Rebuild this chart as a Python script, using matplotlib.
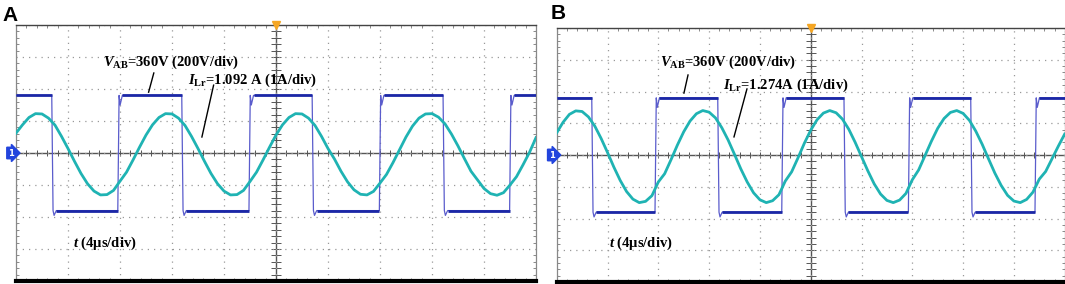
import numpy as np
import matplotlib.pyplot as plt

plt.rcParams['mathtext.fontset'] = 'custom'
plt.rcParams['mathtext.rm'] = 'Liberation Serif:bold'
plt.rcParams['mathtext.it'] = 'Liberation Serif:italic:bold'

# time base (us), 0.5 us steps over 10 div of 4 us
t_us = np.arange(0, 40.5, 0.5)

# square voltage: edge times (us), starts high
v_level = 360.0          # V
v_scale = 200.0          # V/div
ring_rise = -60.0        # small dip after rising edge (V)
ring_fall = -30.0        # small undershoot after falling edge (V)
edges_a = [2.75, 7.83, 12.75, 17.92, 22.78, 27.95, 32.85, 37.97]
edges_b = [2.76, 7.74, 12.68, 17.72, 22.62, 27.69, 32.60, 37.66]

# resonant current samples (A), 1 A/div
i_a = [0.62, 0.88, 1.11, 1.23, 1.22, 1.09, 0.87, 0.52, 0.14, -0.26,
       -0.64, -0.96, -1.19, -1.31, -1.30, -1.17, -0.88, -0.60, -0.22, 0.18,
       0.56, 0.88, 1.11, 1.23, 1.22, 1.09, 0.86, 0.52, 0.14, -0.26,
       -0.64, -0.96, -1.19, -1.31, -1.30, -1.17, -0.89, -0.60, -0.22, 0.18,
       0.56, 0.88, 1.11, 1.23, 1.22, 1.09, 0.86, 0.52, 0.14, -0.19,
       -0.57, -0.90, -1.15, -1.29, -1.31, -1.20, -0.94, -0.67, -0.30, 0.10,
       0.50, 0.84, 1.09, 1.22, 1.23, 1.12, 0.91, 0.59, 0.22, -0.18,
       -0.57, -0.84, -1.11, -1.27, -1.32, -1.24, -1.00, -0.74, -0.37, 0.02,
       0.48]
i_b = [0.70, 1.03, 1.28, 1.39, 1.37, 1.20, 0.91, 0.52, 0.08, -0.38,
       -0.80, -1.15, -1.39, -1.50, -1.46, -1.28, -0.85, -0.59, -0.15, 0.31,
       0.73, 1.07, 1.30, 1.40, 1.35, 1.17, 0.86, 0.47, 0.02, -0.44,
       -0.85, -1.19, -1.41, -1.50, -1.44, -1.25, -0.82, -0.53, -0.09, 0.37,
       0.78, 1.11, 1.32, 1.40, 1.33, 1.13, 0.81, 0.40, -0.05, -0.50,
       -0.91, -1.23, -1.43, -1.50, -1.42, -1.21, -0.78, -0.47, -0.02, 0.43,
       0.84, 1.15, 1.34, 1.40, 1.31, 1.09, 0.75, 0.34, -0.12, -0.57,
       -0.96, -1.27, -1.45, -1.50, -1.40, -1.17, -0.76, -0.52, -0.12, 0.28,
       0.66]

panels = [
    dict(label='A', edges=edges_a, cur=i_a, vtxt='=360V (200V/div)', itxt='=1.092 A (1A/div)',
         rect=[16/1065, 3/284, 520/1065, 256/284],
         vpos=(6.7, 2.84), ipos=(13.2, 2.28), tpos=(4.4, -2.81),
         vlead=((10.6, 2.5), (10.2, 1.9)), ilead=((15.2, 2.12), (14.3, 0.5)),
         lab=(2/1065, 1-21/284)),
    dict(label='B', edges=edges_b, cur=i_b, vtxt='=360V (200V/div)', itxt='=1.274A (1A/div)',
         rect=[556.7/1065, 2/284, 508/1065, 254/284],
         vpos=(8.13, 2.93), ipos=(13.1, 2.2), tpos=(4.12, -2.77),
         vlead=((10.34, 2.52), (10.02, 1.95)), ilead=((14.98, 2.08), (13.96, 0.57)),
         lab=(551/1065, 1-19/284)),
]

v_col = '#1b27a6'
v_edge_col = '#5a5ccc'
i_col = '#1fb3b3'

fig = plt.figure(figsize=(10.65, 2.84), dpi=100)

for p in panels:
    ax = fig.add_axes(p['rect'])
    ax.set_xlim(0, 40)
    ax.set_ylim(-4, 4)

    # graticule
    ax.set_xticks(np.arange(0, 41, 4))
    ax.set_xticks(np.arange(0, 40.01, 0.8), minor=True)
    ax.set_yticks(np.arange(-4, 5, 1))
    ax.set_yticks(np.arange(-4, 4.01, 0.2), minor=True)
    ax.tick_params(which='both', direction='in', top=True, right=True,
                   labelbottom=False, labelleft=False, color='#777777')
    ax.tick_params(which='major', length=0)
    ax.tick_params(which='minor', length=2.5, width=0.6)
    ax.grid(which='major', linestyle=(0, (1, 4)), color='#999999', linewidth=0.9)
    ax.axhline(0, color='#555555', lw=1.0, zorder=1)
    ax.axvline(20, color='#555555', lw=1.0, zorder=1)
    ax.vlines(np.arange(0, 40.01, 0.8), -0.1, 0.1, color='#555555', lw=0.7, zorder=1)
    ax.hlines(np.arange(-4, 4.01, 0.2), 19.6, 20.4, color='#555555', lw=0.7, zorder=1)
    for s in ['left', 'right']:
        ax.spines[s].set_color('#888888')
        ax.spines[s].set_linewidth(0.9)
    ax.spines['top'].set_color('#444444')
    ax.spines['top'].set_linewidth(1.0)
    ax.spines['bottom'].set_color('black')
    ax.spines['bottom'].set_linewidth(3.0)

    # voltage trace built from edge times
    vx, vy = [0.0], [v_level]
    state = 1
    for e in p['edges']:
        vx += [e, e + 0.1]
        vy += [state * v_level, -state * v_level]
        state = -state
        if state > 0:
            vx += [e + 0.18, e + 0.35]
            vy += [v_level + ring_rise, v_level]
        else:
            vx += [e + 0.18, e + 0.35]
            vy += [-v_level + ring_fall, -v_level]
    vx.append(40.0)
    vy.append(state * v_level)
    vy = np.array(vy) / v_scale
    ax.plot(vx, vy, color=v_edge_col, lw=0.9, zorder=3)
    # plateaus drawn thicker (noisy levels)
    starts = [0.0] + [e + 0.35 for e in p['edges']]
    ends = [e for e in p['edges']] + [40.0]
    lev = 1
    for a, b in zip(starts, ends):
        ax.hlines(lev * v_level / v_scale, a, b, color=v_col, lw=2.0, zorder=3)
        lev = -lev

    # current trace
    ax.plot(t_us, p['cur'], color=i_col, lw=2.0, zorder=4)

    # markers
    ax.plot(20, 4, marker='v', color='#f5a623', markersize=6, clip_on=False, zorder=6)
    ax.text(-0.004, 0.5, '1', transform=ax.transAxes, ha='right', va='center',
            fontsize=6, color='white', fontweight='bold',
            bbox=dict(boxstyle='rarrow,pad=0.15', fc='#2244dd', ec='#2244dd'))

    # annotations
    tk = dict(fontsize=10.5, family='Liberation Serif', fontweight='bold',
              va='center', ha='left', zorder=7)
    ax.text(*p['vpos'], r'$\mathit{V}_{\mathrm{AB}}$' + p['vtxt'], **tk)
    ax.text(*p['ipos'], r'$\mathit{I}_{\mathrm{Lr}}$' + p['itxt'], **tk)
    ax.text(*p['tpos'], r'$\mathit{t}$ (4μs/div)', **tk)
    for (x0, y0), (x1, y1) in [p['vlead'], p['ilead']]:
        ax.plot([x0, x1], [y0, y1], color='black', lw=1.0, zorder=7)

    fig.text(*p['lab'], p['label'], fontsize=15, fontweight='bold',
             family='Liberation Sans', ha='left', va='baseline')

plt.savefig('out.png', dpi=100)
